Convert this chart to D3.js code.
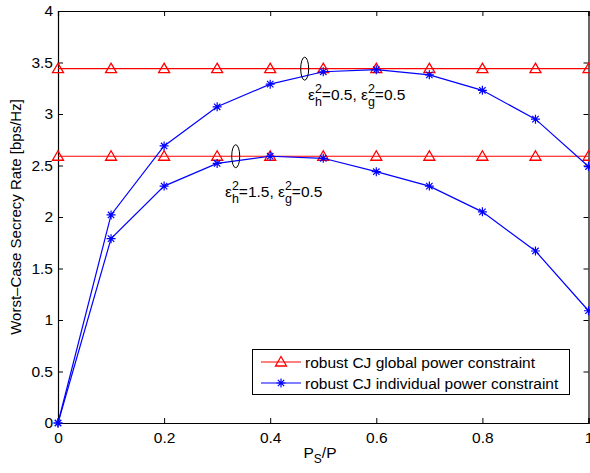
<!DOCTYPE html>
<html>
<head>
<meta charset="utf-8">
<script src="https://cdn.jsdelivr.net/npm/d3@7"></script>
<style>
  body { margin: 0; background: #fff; }
  svg { font-family: "Liberation Sans", Arial, Helvetica, sans-serif; }
</style>
</head>
<body>
<svg id="chart" width="590" height="473"></svg>
<script>
// data
var psRatio = [0, 0.1, 0.2, 0.3, 0.4, 0.5, 0.6, 0.7, 0.8, 0.9, 1.0];
var globalHigh = [3.44, 3.44, 3.44, 3.44, 3.44, 3.44, 3.44, 3.44, 3.44, 3.44, 3.44];
var globalLow = [2.59, 2.59, 2.59, 2.59, 2.59, 2.59, 2.59, 2.59, 2.59, 2.59, 2.59];
var indivHigh = [0, 2.02, 2.69, 3.07, 3.29, 3.41, 3.43, 3.38, 3.23, 2.95, 2.49];
var indivLow = [0, 1.79, 2.30, 2.52, 2.59, 2.57, 2.44, 2.30, 2.05, 1.67, 1.09];
var xTicks = [0, 0.2, 0.4, 0.6, 0.8, 1];
var yTicks = [0, 0.5, 1, 1.5, 2, 2.5, 3, 3.5, 4];
var legendLabels = ["robust CJ global power constraint", "robust CJ individual power constraint"];

var margin = {left: 58, right: 1, top: 11, bottom: 50};
var width = 590, height = 473;

var svg = d3.select("#chart");

var xScale = d3.scaleLinear()
               .domain([0, 1])
               .range([margin.left, width - margin.right - 0.5]);
var yScale = d3.scaleLinear()
               .domain([0, 4])
               .range([height - margin.bottom, margin.top]);

// axes with inward ticks, MATLAB style box
var xAxis = d3.axisBottom(xScale).tickValues(xTicks).tickSize(-5).tickPadding(9)
              .tickFormat(function(d){ return String(d); });
var yAxis = d3.axisLeft(yScale).tickValues(yTicks).tickSize(-5).tickPadding(5)
              .tickFormat(function(d){ return String(d); });

svg.append("g")
   .attr("transform", "translate(0," + yScale(0) + ")")
   .call(xAxis);
svg.append("g")
   .attr("transform", "translate(" + xScale(0) + ",0)")
   .call(yAxis);
svg.append("g")
   .attr("transform", "translate(0," + yScale(4) + ")")
   .call(d3.axisTop(xScale).tickValues(xTicks).tickSize(-5).tickFormat(""));
svg.append("g")
   .attr("transform", "translate(" + xScale(1) + ",0)")
   .call(d3.axisRight(yScale).tickValues(yTicks).tickSize(-5).tickFormat(""));

svg.selectAll(".domain").attr("stroke", "#000").attr("stroke-width", 1.2);
svg.selectAll(".tick line").attr("stroke", "#000");
svg.selectAll(".tick text").attr("font-size", 15.5).attr("fill", "#000")
   .attr("font-family", "'Liberation Sans', Arial, sans-serif");

// axis labels
svg.append("text")
   .attr("transform", "translate(21," + ((yScale(0) + yScale(4)) / 2) + ") rotate(-90)")
   .attr("text-anchor", "middle")
   .attr("font-size", 15)
   .text("Worst\u2013Case Secrecy Rate [bps/Hz]");

var xl = svg.append("text")
   .attr("x", 320)
   .attr("y", 458)
   .attr("text-anchor", "middle")
   .attr("font-size", 15.5);
xl.append("tspan").text("P");
xl.append("tspan").attr("font-size", 12).attr("dy", 5).text("S");
xl.append("tspan").attr("dy", -5).text("/P");

var line = d3.line()
             .x(function(d, i){ return xScale(psRatio[i]); })
             .y(function(d){ return yScale(d); });

function triangle(g, x, y, color) {
  g.append("path")
   .attr("d", "M" + x + "," + (y - 5.5) + "L" + (x + 5.5) + "," + (y + 4) + "L" + (x - 5.5) + "," + (y + 4) + "Z")
   .attr("fill", "none")
   .attr("stroke", color)
   .attr("stroke-width", 1.3);
}

function star(g, x, y, color) {
  var r = 4.5, d = 3.2;
  g.append("path")
   .attr("d", "M" + (x - r) + "," + y + "L" + (x + r) + "," + y +
              "M" + x + "," + (y - r) + "L" + x + "," + (y + r) +
              "M" + (x - d) + "," + (y - d) + "L" + (x + d) + "," + (y + d) +
              "M" + (x - d) + "," + (y + d) + "L" + (x + d) + "," + (y - d))
   .attr("stroke", color)
   .attr("stroke-width", 1.2);
}

var plot = svg.append("g");

[globalHigh, globalLow].forEach(function(series){
  plot.append("path")
      .datum(series)
      .attr("d", line)
      .attr("fill", "none")
      .attr("stroke", "#ff0000")
      .attr("stroke-width", 1.2);
  series.forEach(function(v, i){
    triangle(plot, xScale(psRatio[i]), yScale(v), "#ff0000");
  });
});

[indivHigh, indivLow].forEach(function(series){
  plot.append("path")
      .datum(series)
      .attr("d", line)
      .attr("fill", "none")
      .attr("stroke", "#0000ff")
      .attr("stroke-width", 1.2);
  series.forEach(function(v, i){
    star(plot, xScale(psRatio[i]), yScale(v), "#0000ff");
  });
});

// annotations
function annot(cx, cy, tx, ty, eh) {
  svg.append("ellipse")
     .attr("cx", cx).attr("cy", cy)
     .attr("rx", 4).attr("ry", 11.5)
     .attr("fill", "none").attr("stroke", "#000").attr("stroke-width", 1);
  var t = svg.append("text").attr("x", tx).attr("y", ty).attr("font-size", 15.5);
  t.append("tspan").text("\u03b5");
  t.append("tspan").attr("font-size", 12.5).attr("dy", -7).text("2");
  t.append("tspan").attr("font-size", 12.5).attr("dx", -7).attr("dy", 13).text("h");
  t.append("tspan").attr("dy", -6).text("=" + eh + ", \u03b5");
  t.append("tspan").attr("font-size", 12.5).attr("dy", -7).text("2");
  t.append("tspan").attr("font-size", 12.5).attr("dx", -7).attr("dy", 13).text("g");
  t.append("tspan").attr("dy", -6).text("=0.5");
}
annot(xScale(0.465), yScale(3.44), 308, 100, "0.5");
annot(xScale(0.335), yScale(2.59), 225, 197, "1.5");

// legend
var lg = svg.append("g");
lg.append("rect")
  .attr("x", 252.5).attr("y", 349.5)
  .attr("width", 317).attr("height", 45)
  .attr("fill", "#fff").attr("stroke", "#000").attr("stroke-width", 1);
var legendColors = ["#ff0000", "#0000ff"];
legendLabels.forEach(function(lab, i){
  var y = 362 + i * 21;
  lg.append("line")
    .attr("x1", 261).attr("x2", 301)
    .attr("y1", y).attr("y2", y)
    .attr("stroke", legendColors[i]).attr("stroke-width", 1.2);
  if (i === 0) triangle(lg, 281, y, legendColors[i]);
  else star(lg, 281, y, legendColors[i]);
  lg.append("text")
    .attr("x", 305).attr("y", y + 5.5)
    .attr("font-size", 15.5)
    .text(lab);
});
</script>
</body>
</html>
